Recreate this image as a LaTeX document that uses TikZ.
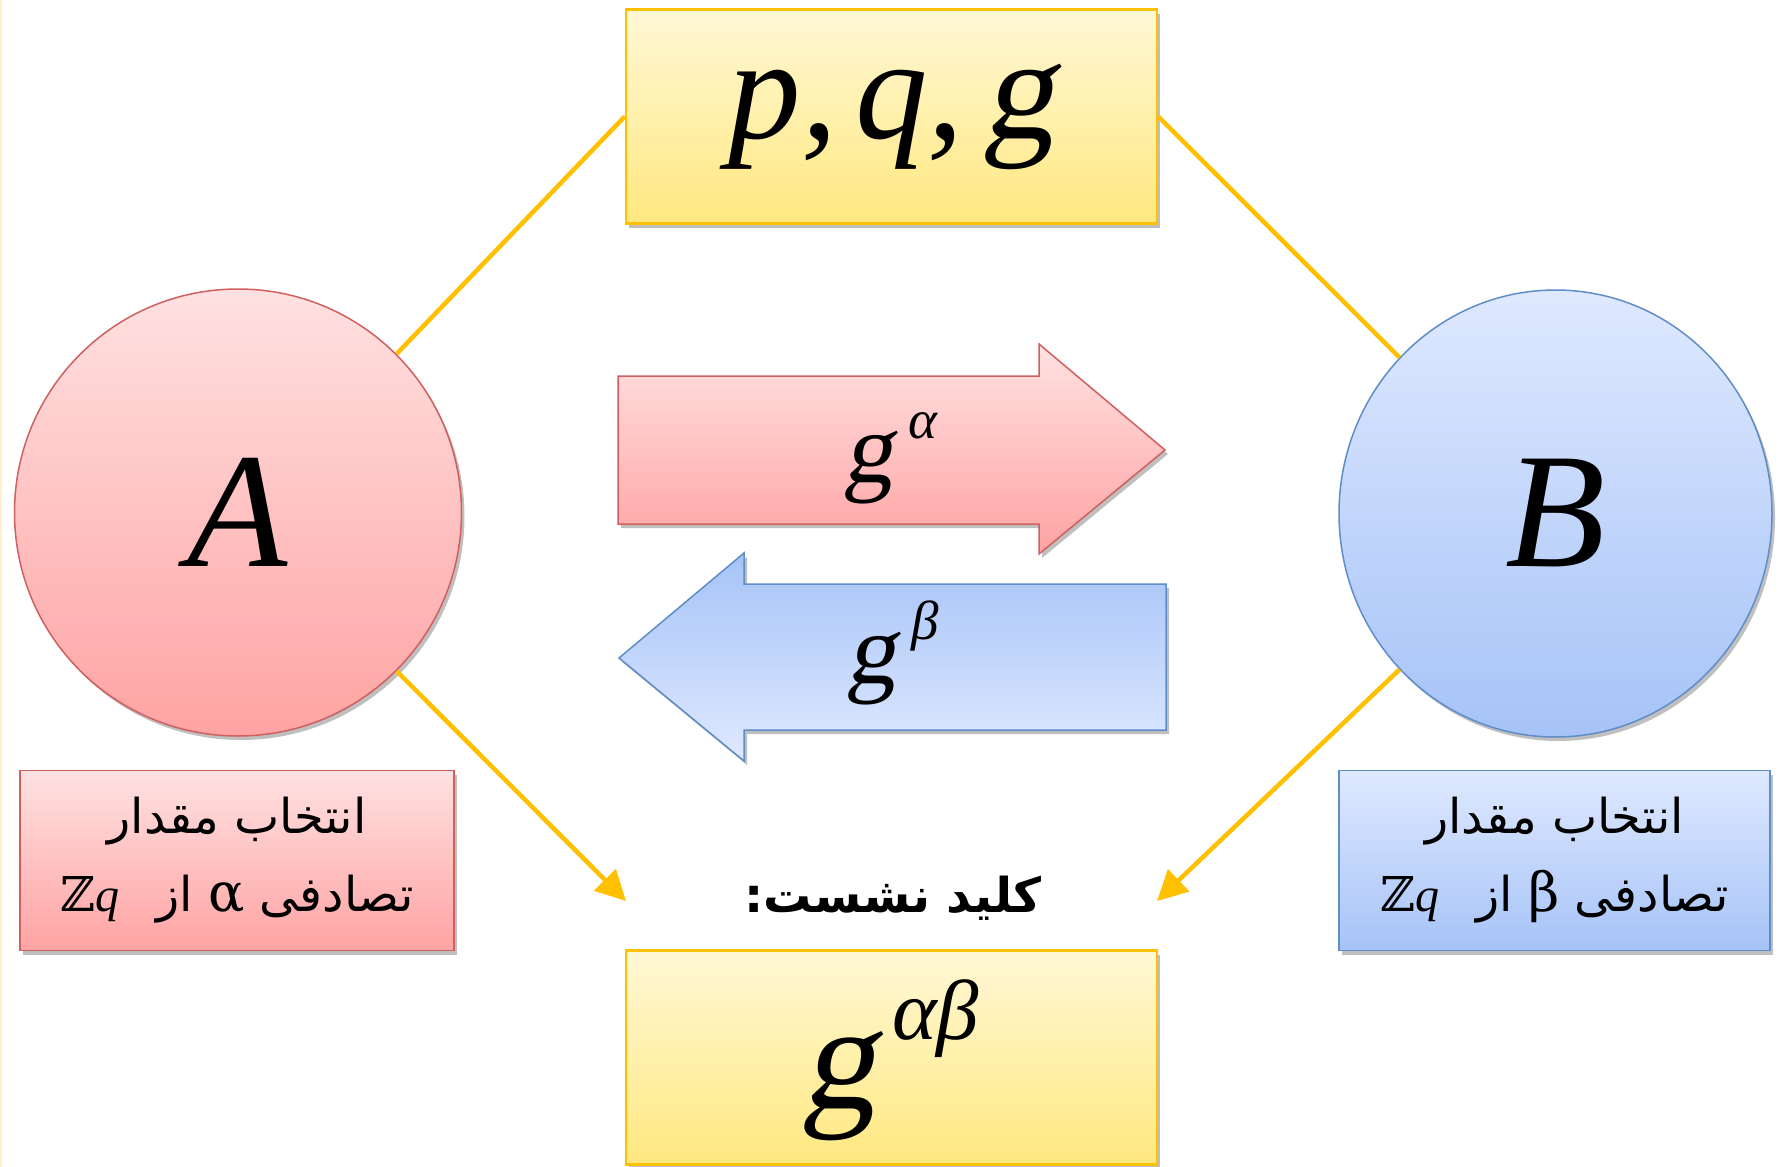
\documentclass[tikz,border=0pt]{standalone}
\usepackage{fontspec}
\usetikzlibrary{shadows,arrows.meta,shapes.geometric}
\TeXXeTstate=1
\newfontfamily\arabicfont[Script=Arabic]{DejaVu Sans}
\newfontfamily\tnr{Liberation Serif}
\newfontfamily\tnrsl[FakeSlant=0.18]{Liberation Serif}
\newfontfamily\grk{DejaVu Serif}
\definecolor{ytop}{HTML}{FFF8D6}
\definecolor{ybot}{HTML}{FFE880}
\definecolor{yline}{HTML}{FFC000}
\definecolor{rtop}{HTML}{FFE1E1}
\definecolor{rbot}{HTML}{FFA3A3}
\definecolor{rline}{HTML}{D0605F}
\definecolor{btop}{HTML}{DFE9FF}
\definecolor{bbot}{HTML}{A6C3F7}
\definecolor{bline}{HTML}{5F8DC8}
\definecolor{edge}{HTML}{FFF2CC}
\begin{document}
\begin{tikzpicture}[x=1pt,y=-1pt,
  shad/.style={drop shadow={shadow xshift=3pt,shadow yshift=-4pt,opacity=0.25,fill=black}},
  ybox/.style={draw=yline, line width=2.5pt, top color=ytop, bottom color=ybot, shad, inner sep=0pt, minimum width=531pt, minimum height=214pt},
  rshape/.style={draw=rline, line width=1.5pt, top color=rtop, bottom color=rbot, shad, inner sep=0pt},
  bshape/.style={draw=bline, line width=1.5pt, top color=btop, bottom color=bbot, shad, inner sep=0pt},
  conn/.style={draw=yline, line width=4.5pt},
  big/.style={font=\fontsize{145}{150}\selectfont},
  huge/.style={font=\tnr\itshape\fontsize{164}{170}\selectfont},
  fa/.style={font=\arabicfont\fontsize{48}{78}\selectfont, align=center}
]
\useasboundingbox (0,0) rectangle (1781,1167);
\fill[white] (0,0) rectangle (1781,1167);
\draw[edge, line width=2pt] (1,0) -- (1,1167);

% top and bottom boxes
\node[ybox, big] (top) at (891.5,116.5) {{\tnr\itshape p,\kern18pt q,\kern18pt}{\tnrsl g}};
\node[ybox] (key) at (891.5,1057.5) {};
\node[inner sep=0pt, font=\tnrsl\fontsize{150}{150}\selectfont] (keytxt) at (890,1060)
  {g\kern16pt\raisebox{69pt}{\tnr\itshape\fontsize{85}{85}\selectfont αβ}};

% circles
\node[rshape, circle, minimum size=447pt, huge] (A) at (238,512.5) {A};
\node[bshape, ellipse, minimum width=433pt, minimum height=447pt, huge] (B) at (1555.5,513.5) {B};

% exchange arrows
\path[draw=rline, line width=1.5pt, top color=rtop, bottom color=rbot, shad]
  (618,376) -- (1039,376) -- (1039,344) -- (1165,450) -- (1039,554) -- (1039,524) -- (618,524) -- cycle;
\path[draw=bline, line width=1.5pt, top color=bbot, bottom color=btop, shad]
  (1166,584) -- (744,584) -- (744,553) -- (619,658) -- (744,761) -- (744,730) -- (1166,730) -- cycle;
\node[inner sep=0pt, font=\tnrsl\fontsize{100}{100}\selectfont] (ga) at (890,458)
  {g\kern15pt\raisebox{44pt}{\tnr\itshape\fontsize{55}{55}\selectfont α}};
\node[inner sep=0pt, font=\tnrsl\fontsize{100}{100}\selectfont] (gb) at (893,653)
  {g\kern15pt\raisebox{44pt}{\tnr\itshape\fontsize{55}{55}\selectfont β}};

% text boxes
\node[rshape, fa, minimum width=434pt, minimum height=180pt] (ra) at (237,860.5)
  {\beginR انتخاب مقدار\endR\\
   \beginR تصادفی {\grk\fontsize{54}{54}\selectfont α} از \hspace{22pt}\beginL{\grk ℤ}{\tnr\itshape q}\endL\endR};
\node[bshape, fa, minimum width=431pt, minimum height=180pt] (rb) at (1554.5,860.5)
  {\beginR انتخاب مقدار\endR\\
   \beginR تصادفی {\grk\fontsize{54}{54}\selectfont β} از \hspace{22pt}\beginL{\grk ℤ}{\tnr\itshape q}\endL\endR};

% key label
\node[inner sep=0pt, font=\arabicfont\bfseries\fontsize{48}{56}\selectfont] (kl) at (893,898)
  {\beginR کلید نشست:\endR};

% connectors
\coordinate (kL) at (626,901);
\coordinate (kR) at (1157,901);
\draw[conn] (top.west) -- (A.45);
\draw[conn] (top.east) -- (B.135);
\draw[conn, -{Triangle[length=30pt,width=30pt]}] (A.-45) -- (kL);
\draw[conn, -{Triangle[length=30pt,width=30pt]}] (B.-135) -- (kR);
\end{tikzpicture}
\end{document}
